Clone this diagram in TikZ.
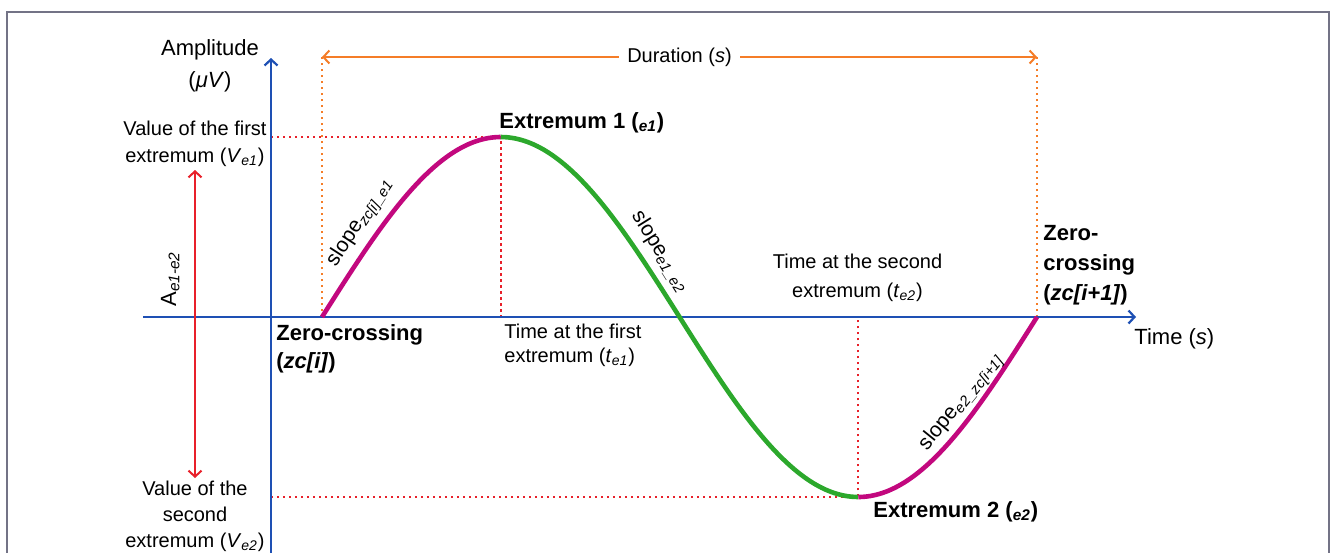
\documentclass[tikz,border=0pt]{standalone}
\usepackage{fontspec}
\setmainfont{Liberation Sans}
\usepackage{tikz}
\usetikzlibrary{arrows.meta,calc}
\definecolor{axisblue}{RGB}{30,80,180}
\definecolor{wavepink}{RGB}{194,8,126}
\definecolor{wavegreen}{RGB}{44,168,44}
\definecolor{dotred}{RGB}{232,32,42}
\definecolor{durorange}{RGB}{245,125,40}
\definecolor{framegray}{RGB}{115,115,134}
\newcommand{\lsub}[1]{\textsubscript{\textit{#1}}}

\begin{document}
\begin{tikzpicture}[x=0.5pt,y=-0.5pt,
  axis/.style={axisblue,line width=1.1pt},
  reddot/.style={dotred,line width=1.2pt,dash pattern=on 1.2pt off 1.8pt},
  orangedot/.style={durorange,line width=1.2pt,dash pattern=on 1.2pt off 1.8pt},
  wave/.style={line width=2.3pt,smooth,samples=60},
  txt/.style={inner sep=0pt,font=\fontsize{10}{12}\selectfont},
  bold/.style={inner sep=0pt,font=\fontsize{11}{14}\selectfont\bfseries},
  barb/.tip={Straight Barb[length=3pt,width=6.5pt]}]
  \useasboundingbox (0,0) rectangle (1331,552);
  % frame round the figure
  \draw[framegray,line width=0.75pt] (7,560) -- (7,12) -- (1329,12) -- (1329,560);

  % key points of the wave
  \coordinate (O) at (271,317);
  \coordinate (zc1) at (322,317);
  \coordinate (e1) at (500.75,137);
  \coordinate (e2) at (858.25,497);
  \coordinate (zc2) at (1037,317);
  \coordinate (d1) at (322,57);
  \coordinate (d2) at (1037,57);
  \coordinate (ytop) at (271,58);
  \coordinate (ybot) at (271,560);
  \coordinate (xleft) at (143,317);
  \coordinate (xright) at (1136,317);
  \coordinate (atop) at (195,170);
  \coordinate (abot) at (195,478);

  % guides to the axes
  \draw[reddot] (e1 -| O) -- (e1) -- (e1 |- O);
  \draw[reddot] (e2 -| O) -- (e2) -- (e2 |- O);
  \draw[orangedot] (zc1) -- (d1);
  \draw[orangedot] (zc2) -- (d2);

  % axes
  \draw[axis,-barb] (ybot) -- (ytop);
  \draw[axis,-barb] (xleft) -- (xright);

  % duration and amplitude
  \draw[durorange,line width=1pt,barb-barb] (d1) -- (d2)
    node[midway,fill=white,text=black,inner xsep=4pt,inner ysep=1pt,font=\fontsize{10}{12}\selectfont] (dur) {Duration (\textit{s})};
  \draw[dotred,line width=1pt,barb-barb] (atop) -- (abot);

  % wave: rise, fall, rise
  \foreach \a/\b/\c in {322/500.75/wavepink,500.75/858.25/wavegreen,858.25/1037/wavepink}
    \draw[\c,wave,domain=\a:\b] plot (\x,{317-180*sin((\x-322)*0.503497)});

  % labels
  \node[txt,font=\fontsize{11}{16}\selectfont,align=center,anchor=north] (amp) at (210,39) {Amplitude\\(\textit{μV})};
  \node[txt,font=\fontsize{11}{14}\selectfont,anchor=base west] (time) at (1134,344) {Time (\textit{s})};
  \node[txt,font=\fontsize{10}{13.5}\selectfont,align=center,anchor=north] (ve1) at (195,121) {Value of the first\\extremum (\textit{V}\lsub{e1})};
  \node[txt,font=\fontsize{10}{13}\selectfont,align=center,anchor=north] (ve2) at (195,481) {Value of the\\second\\extremum (\textit{V}\lsub{e2})};
  \node[txt,font=\fontsize{11}{13}\selectfont,rotate=90,anchor=base] (aee) at (176,279) {A\lsub{e1-e2}};
  \node[bold,align=left,anchor=north west] (zc1 label) at (276,324) {Zero-crossing\\(\textit{zc[i]})};
  \node[bold,font=\fontsize{11}{15}\selectfont\bfseries,align=left,anchor=north west] (zc2 label) at (1043,225) {Zero-\\crossing\\(\textit{zc[i+1]})};
  \node[bold,anchor=base west] (e1 label) at (499,128) {Extremum 1 (\lsub{e1})};
  \node[bold,anchor=base west] (e2 label) at (873,517) {Extremum 2 (\lsub{e2})};
  \node[txt,align=left,anchor=north west] (te1) at (504,324) {Time at the first\\extremum (\textit{t}\lsub{e1})};
  \node[txt,font=\fontsize{10}{14.5}\selectfont,align=center,anchor=north] (te2) at (857.5,254) {Time at the second\\extremum (\textit{t}\lsub{e2})};
  \node[txt,font=\fontsize{10.5}{12}\selectfont,rotate=57] (s1) at (360,222) {slope\lsub{zc[i]\_e1}};
  \node[txt,font=\fontsize{10.5}{12}\selectfont,rotate=-58] (s2) at (660,252) {slope\lsub{e1\_e2}};
  \node[txt,font=\fontsize{10.5}{12}\selectfont,rotate=51] (s3) at (961,402) {slope\lsub{e2\_zc[i+1]}};
\end{tikzpicture}
\end{document}
